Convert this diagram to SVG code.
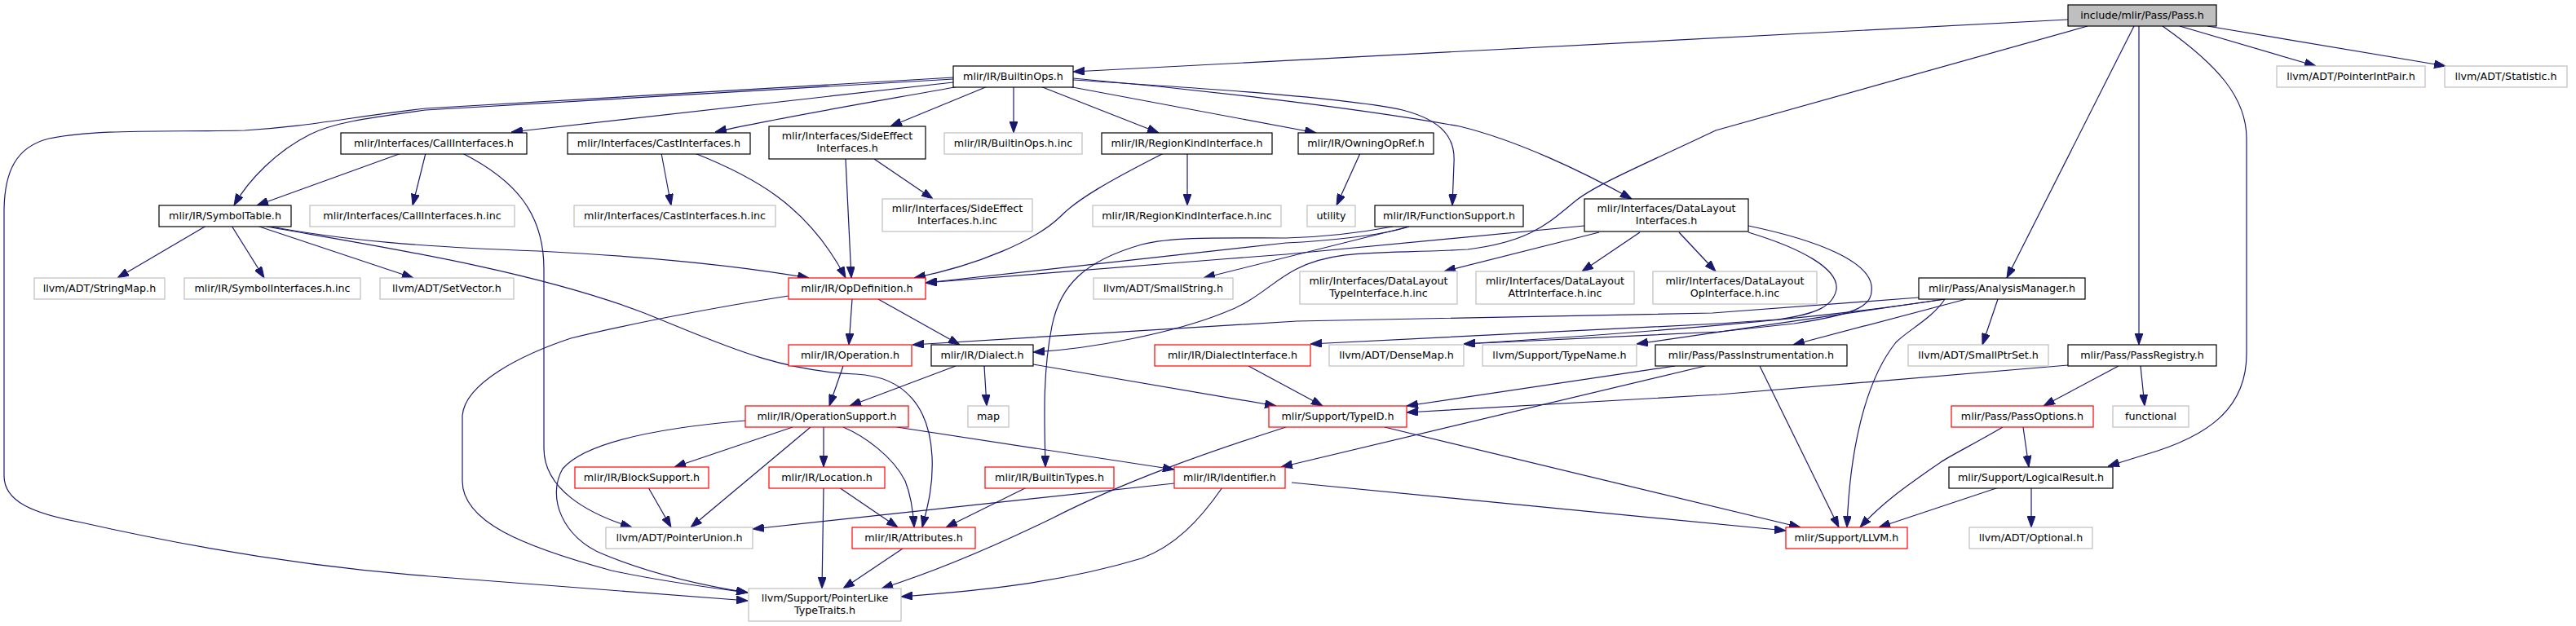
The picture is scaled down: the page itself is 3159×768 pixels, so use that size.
<svg xmlns="http://www.w3.org/2000/svg" width="3159" height="768" viewBox="0 0 3159 768">
<style>
rect{fill:#fff;stroke:#000;stroke-width:1.2}
rect.r{stroke:#ff0000}
rect.g{stroke:#bfbfbf}
rect.m{fill:#bfbfbf}
text{font-family:"DejaVu Sans","Liberation Sans",sans-serif;font-size:12.7px;fill:#000;text-anchor:middle}
#edges path{fill:none;stroke:#191970;stroke-width:1.2;marker-end:url(#ah)}
</style>
<defs>
<marker id="ah" markerUnits="userSpaceOnUse" markerWidth="14" markerHeight="10" refX="14" refY="5" orient="auto">
<path d="M0,0 L14,5 L0,10 z" fill="#191970" stroke="#191970" stroke-width="1"/>
</marker>
</defs>
<rect x="0" y="0" width="3159" height="768" style="fill:#fff;stroke:none"/>
<g id="edges">
<path d="M2536,24 L1316,88"/>
<path d="M2560,32 L2104,160 C2020,200 1960,225 1934,245 C1900,272 1880,296 1800,306 C1700,312 1640,304 1590,330 C1560,345 1540,370 1500,384 C1440,408 1340,428 1267,432"/>
<path d="M2617,32 L2461,341"/>
<path d="M2623,32 L2623,423"/>
<path d="M2652,32 C2720,80 2755,120 2755,170 L2755,434 C2755,500 2710,535 2630,558 L2585,572"/>
<path d="M2673,32 L2840,81"/>
<path d="M2707,32 L2999,81"/>
<path d="M1169,97 L522,135 C450,145 410,150 380,165 C340,185 305,220 287,252"/>
<path d="M1169,95 L522,133 C420,145 380,155 300,160 C200,162 120,158 60,170 C20,180 5,210 5,260 L5,584 C5,615 40,630 100,641 C250,675 400,697 527,707 L917,737"/>
<path d="M1169,101 L627,162"/>
<path d="M1176,106 C1100,120 950,145 877,162"/>
<path d="M1211,106 L1092,155"/>
<path d="M1243,106 L1243,163"/>
<path d="M1276,106 L1421,163"/>
<path d="M1310,106 L1614,163"/>
<path d="M1316,98 C1500,110 1650,120 1720,135 C1770,148 1785,170 1783,200 L1781,252"/>
<path d="M1316,96 C1450,108 1650,130 1790,155 C1860,172 1940,210 2001,244"/>
<path d="M492,188 L315,252"/>
<path d="M522,188 L506,252"/>
<path d="M567,188 C630,220 667,260 667,330 L667,550 C667,600 720,630 775,647"/>
<path d="M811,188 L823,252"/>
<path d="M852,188 C920,215 990,250 1037,341"/>
<path d="M1037,195 L1044,341"/>
<path d="M1072,195 L1144,244"/>
<path d="M1427,188 C1360,222 1320,245 1300,266 C1270,295 1200,325 1121,341"/>
<path d="M1456,188 L1456,252"/>
<path d="M1668,188 L1639,252"/>
<path d="M253,277 L144,341"/>
<path d="M284,277 L324,341"/>
<path d="M315,277 L507,341"/>
<path d="M327,277 C420,295 520,303 660,308 C800,315 900,325 992,341"/>
<path d="M327,278 C450,300 650,330 790,384 C880,420 950,455 1050,459 C1110,462 1140,500 1143,560 C1145,600 1135,630 1131,647"/>
<path d="M1708,278 C1660,287 1620,291 1577,292 C1500,292 1440,290 1400,300 C1330,320 1300,350 1290,400 C1278,460 1281,520 1282,573"/>
<path d="M1728,278 C1690,290 1620,296 1577,298 L1135,347"/>
<path d="M1728,278 L1476,341"/>
<path d="M1943,277 L1577,312 C1400,325 1200,343 1135,347"/>
<path d="M1961,285 L1771,333"/>
<path d="M2011,285 L1940,333"/>
<path d="M2059,285 L2104,333"/>
<path d="M2144,285 C2210,305 2255,330 2252,355 C2248,375 2230,385 2180,392 L2108,397 L1607,422"/>
<path d="M2144,277 C2230,295 2290,320 2295,350 C2298,375 2280,385 2200,397 L2108,407 L1795,422"/>
<path d="M2353,365 L2100,384 L1590,394 L1119,423"/>
<path d="M2385,367 C2300,380 2150,400 1795,422"/>
<path d="M2385,367 L2007,422"/>
<path d="M2411,367 L2199,423"/>
<path d="M2385,367 C2370,390 2340,405 2325,420 C2285,470 2268,560 2265,647"/>
<path d="M2450,367 L2431,423"/>
<path d="M1172,449 L1042,498"/>
<path d="M1207,449 L1210,498"/>
<path d="M1267,447 L1565,498"/>
<path d="M1045,367 L1041,423"/>
<path d="M1077,367 L1177,423"/>
<path d="M967,363 C870,378 760,400 700,415 C640,435 570,470 567,510 L567,590 C567,640 640,670 750,700 C820,715 880,722 917,727"/>
<path d="M1034,449 L1017,498"/>
<path d="M972,524 L827,573"/>
<path d="M994,524 L847,647"/>
<path d="M1010,524 L1010,573"/>
<path d="M914,516 C820,524 720,540 690,575 C670,610 690,660 740,680 C800,705 860,718 917,727"/>
<path d="M1034,524 C1060,535 1095,560 1110,590 C1118,610 1120,630 1121,647"/>
<path d="M1100,524 L1440,576"/>
<path d="M1029,598 L1101,647"/>
<path d="M1010,598 L1008,722"/>
<path d="M795,598 L823,647"/>
<path d="M1259,598 L1160,647"/>
<path d="M1440,593 L923,649"/>
<path d="M1499,598 C1470,640 1440,670 1400,685 C1300,715 1200,725 1105,732"/>
<path d="M1584,592 L2190,651"/>
<path d="M1107,673 L1034,722"/>
<path d="M1577,524 C1480,555 1380,590 1290,636 C1220,670 1150,700 1081,722"/>
<path d="M1698,524 L2208,647"/>
<path d="M1531,449 L1622,498"/>
<path d="M2054,449 L1725,498"/>
<path d="M2091,449 L1571,573"/>
<path d="M2158,449 L2255,647"/>
<path d="M2536,448 L2108,484 L1725,506"/>
<path d="M2598,449 L2506,498"/>
<path d="M2625,449 L2630,498"/>
<path d="M2481,524 L2488,573"/>
<path d="M2456,524 C2420,545 2390,560 2380,567 C2340,595 2310,615 2281,647"/>
<path d="M2451,598 L2304,647"/>
<path d="M2491,598 L2491,647"/>
</g>
<g id="n_pass"><rect class="m" x="2536" y="6" width="182" height="26"/><text x="2627" y="22.5">include/mlir/Pass/Pass.h</text></g>
<g id="n_builtinops"><rect x="1169" y="81" width="147" height="26"/><text x="1242.5" y="97.5">mlir/IR/BuiltinOps.h</text></g>
<g id="n_pointerintpair"><rect class="g" x="2792" y="81" width="182" height="26"/><text x="2883" y="97.5">llvm/ADT/PointerIntPair.h</text></g>
<g id="n_statistic"><rect class="g" x="2998" y="81" width="150" height="26"/><text x="3073" y="97.5">llvm/ADT/Statistic.h</text></g>
<g id="n_callif"><rect x="418" y="163" width="228" height="26"/><text x="532" y="179.5">mlir/Interfaces/CallInterfaces.h</text></g>
<g id="n_castif"><rect x="696" y="163" width="224" height="26"/><text x="808" y="179.5">mlir/Interfaces/CastInterfaces.h</text></g>
<g id="n_sideeffect"><rect x="943" y="155" width="192" height="40"/><text x="1039" y="170.5">mlir/Interfaces/SideEffect</text><text x="1039" y="185.5">Interfaces.h</text></g>
<g id="n_builtinops_inc"><rect class="g" x="1158" y="163" width="169" height="26"/><text x="1242.5" y="179.5">mlir/IR/BuiltinOps.h.inc</text></g>
<g id="n_regionkind"><rect x="1351" y="163" width="209" height="26"/><text x="1455.5" y="179.5">mlir/IR/RegionKindInterface.h</text></g>
<g id="n_owningopref"><rect x="1592" y="163" width="166" height="26"/><text x="1675" y="179.5">mlir/IR/OwningOpRef.h</text></g>
<g id="n_symboltable"><rect x="195" y="252" width="162" height="26"/><text x="276" y="268.5">mlir/IR/SymbolTable.h</text></g>
<g id="n_callif_inc"><rect class="g" x="380" y="252" width="251" height="26"/><text x="505.5" y="268.5">mlir/Interfaces/CallInterfaces.h.inc</text></g>
<g id="n_castif_inc"><rect class="g" x="704" y="252" width="247" height="26"/><text x="827.5" y="268.5">mlir/Interfaces/CastInterfaces.h.inc</text></g>
<g id="n_sideeffect_inc"><rect class="g" x="1082" y="244" width="184" height="40"/><text x="1174" y="259.5">mlir/Interfaces/SideEffect</text><text x="1174" y="274.5">Interfaces.h.inc</text></g>
<g id="n_regionkind_inc"><rect class="g" x="1340" y="252" width="231" height="26"/><text x="1455.5" y="268.5">mlir/IR/RegionKindInterface.h.inc</text></g>
<g id="n_utility"><rect class="g" x="1603" y="252" width="59" height="26"/><text x="1632.5" y="268.5">utility</text></g>
<g id="n_functionsupport"><rect x="1686" y="252" width="182" height="26"/><text x="1777" y="268.5">mlir/IR/FunctionSupport.h</text></g>
<g id="n_datalayout"><rect x="1943" y="244" width="201" height="40"/><text x="2043.5" y="259.5">mlir/Interfaces/DataLayout</text><text x="2043.5" y="274.5">Interfaces.h</text></g>
<g id="n_stringmap"><rect class="g" x="42" y="341" width="160" height="26"/><text x="122" y="357.5">llvm/ADT/StringMap.h</text></g>
<g id="n_symbolif_inc"><rect class="g" x="226" y="341" width="216" height="26"/><text x="334" y="357.5">mlir/IR/SymbolInterfaces.h.inc</text></g>
<g id="n_setvector"><rect class="g" x="466" y="341" width="164" height="26"/><text x="548" y="357.5">llvm/ADT/SetVector.h</text></g>
<g id="n_opdefinition"><rect class="r" x="967" y="341" width="168" height="26"/><text x="1051" y="357.5">mlir/IR/OpDefinition.h</text></g>
<g id="n_smallstring"><rect class="g" x="1341" y="341" width="171" height="26"/><text x="1426.5" y="357.5">llvm/ADT/SmallString.h</text></g>
<g id="n_dl_type_inc"><rect class="g" x="1594" y="333" width="193" height="40"/><text x="1690.5" y="348.5">mlir/Interfaces/DataLayout</text><text x="1690.5" y="363.5">TypeInterface.h.inc</text></g>
<g id="n_dl_attr_inc"><rect class="g" x="1810" y="333" width="194" height="40"/><text x="1907" y="348.5">mlir/Interfaces/DataLayout</text><text x="1907" y="363.5">AttrInterface.h.inc</text></g>
<g id="n_dl_op_inc"><rect class="g" x="2027" y="333" width="201" height="40"/><text x="2127.5" y="348.5">mlir/Interfaces/DataLayout</text><text x="2127.5" y="363.5">OpInterface.h.inc</text></g>
<g id="n_analysismanager"><rect x="2353" y="341" width="204" height="26"/><text x="2455" y="357.5">mlir/Pass/AnalysisManager.h</text></g>
<g id="n_operation"><rect class="r" x="967" y="423" width="151" height="26"/><text x="1042.5" y="439.5">mlir/IR/Operation.h</text></g>
<g id="n_dialect"><rect x="1142" y="423" width="125" height="26"/><text x="1204.5" y="439.5">mlir/IR/Dialect.h</text></g>
<g id="n_dialectinterface"><rect class="r" x="1416" y="423" width="191" height="26"/><text x="1511.5" y="439.5">mlir/IR/DialectInterface.h</text></g>
<g id="n_densemap"><rect class="g" x="1630" y="423" width="165" height="26"/><text x="1712.5" y="439.5">llvm/ADT/DenseMap.h</text></g>
<g id="n_typename"><rect class="g" x="1818" y="423" width="189" height="26"/><text x="1912.5" y="439.5">llvm/Support/TypeName.h</text></g>
<g id="n_passinstr"><rect x="2030" y="423" width="235" height="26"/><text x="2147.5" y="439.5">mlir/Pass/PassInstrumentation.h</text></g>
<g id="n_smallptrset"><rect class="g" x="2340" y="423" width="172" height="26"/><text x="2426" y="439.5">llvm/ADT/SmallPtrSet.h</text></g>
<g id="n_passregistry"><rect x="2536" y="423" width="182" height="26"/><text x="2627" y="439.5">mlir/Pass/PassRegistry.h</text></g>
<g id="n_opsupport"><rect class="r" x="914" y="498" width="200" height="26"/><text x="1014" y="514.5">mlir/IR/OperationSupport.h</text></g>
<g id="n_map"><rect class="g" x="1187" y="498" width="50" height="26"/><text x="1212" y="514.5">map</text></g>
<g id="n_typeid"><rect class="r" x="1556" y="498" width="169" height="26"/><text x="1640.5" y="514.5">mlir/Support/TypeID.h</text></g>
<g id="n_passoptions"><rect class="r" x="2393" y="498" width="174" height="26"/><text x="2480" y="514.5">mlir/Pass/PassOptions.h</text></g>
<g id="n_functional"><rect class="g" x="2591" y="498" width="93" height="26"/><text x="2637.5" y="514.5">functional</text></g>
<g id="n_blocksupport"><rect class="r" x="705" y="573" width="164" height="26"/><text x="787" y="589.5">mlir/IR/BlockSupport.h</text></g>
<g id="n_location"><rect class="r" x="943" y="573" width="142" height="26"/><text x="1014" y="589.5">mlir/IR/Location.h</text></g>
<g id="n_builtintypes"><rect class="r" x="1208" y="573" width="158" height="26"/><text x="1287" y="589.5">mlir/IR/BuiltinTypes.h</text></g>
<g id="n_identifier"><rect class="r" x="1440" y="573" width="136" height="26"/><text x="1508" y="589.5">mlir/IR/Identifier.h</text></g>
<g id="n_logicalresult"><rect x="2390" y="573" width="201" height="26"/><text x="2490.5" y="589.5">mlir/Support/LogicalResult.h</text></g>
<g id="n_pointerunion"><rect class="g" x="743" y="647" width="180" height="26"/><text x="833" y="663.5">llvm/ADT/PointerUnion.h</text></g>
<g id="n_attributes"><rect class="r" x="1045" y="647" width="151" height="26"/><text x="1120.5" y="663.5">mlir/IR/Attributes.h</text></g>
<g id="n_llvm"><rect class="r" x="2190" y="647" width="149" height="26"/><text x="2264.5" y="663.5">mlir/Support/LLVM.h</text></g>
<g id="n_optional"><rect class="g" x="2415" y="647" width="151" height="26"/><text x="2490.5" y="663.5">llvm/ADT/Optional.h</text></g>
<g id="n_pointerlike"><rect class="g" x="918" y="722" width="187" height="40"/><text x="1011.5" y="737.5">llvm/Support/PointerLike</text><text x="1011.5" y="752.5">TypeTraits.h</text></g>
</svg>
